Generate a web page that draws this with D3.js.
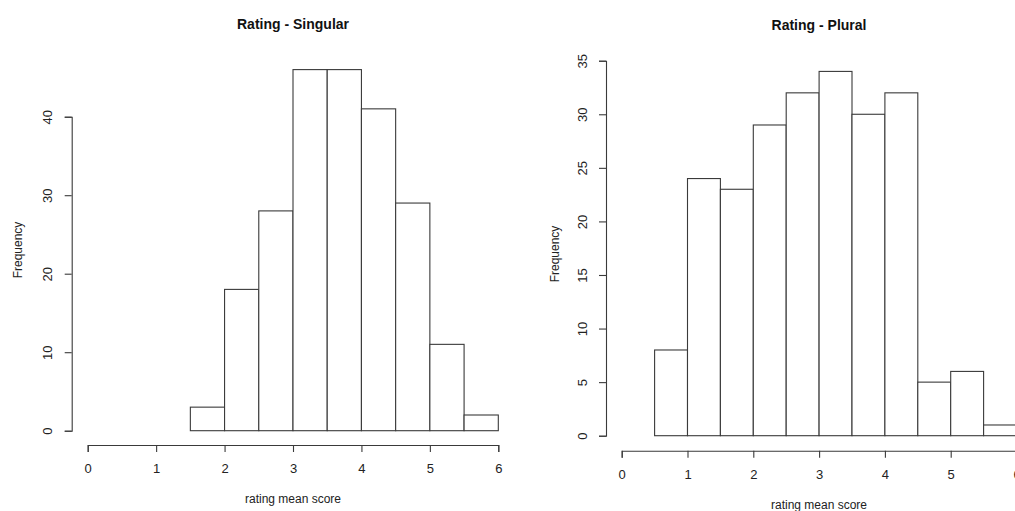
<!DOCTYPE html>
<html>
<head>
<meta charset="utf-8">
<script src="https://cdn.jsdelivr.net/npm/d3@7"></script>
<style>
  body { margin: 0; background: #fff; }
  svg { display: block; font-family: "Liberation Sans", Arial, sans-serif; }
</style>
</head>
<body>
<div id="chart"></div>
<script>
const singularBreaks = [1.5, 2, 2.5, 3, 3.5, 4, 4.5, 5, 5.5, 6];
const singularCounts = [3, 18, 28, 46, 46, 41, 29, 11, 2];
const pluralBreaks = [0.5, 1, 1.5, 2, 2.5, 3, 3.5, 4, 4.5, 5, 5.5, 6];
const pluralCounts = [8, 24, 23, 29, 32, 34, 30, 32, 5, 6, 1];
const xTickValues = [0, 1, 2, 3, 4, 5, 6];
const singularYTicks = [0, 10, 20, 30, 40];
const pluralYTicks = [0, 5, 10, 15, 20, 25, 30, 35];

const w = 1015;
const h = 511;
const ink = "#3a3a3a";

const svg = d3.select("#chart")
    .append("svg")
    .attr("width", w)
    .attr("height", h);

const panels = [
    {
        title: "Rating - Singular",
        breaks: singularBreaks, counts: singularCounts, yTicks: singularYTicks,
        xRange: [87.7, 498.3], yRange: [430.7, 116.7],
        yAxisX: 71.7, xAxisY: 445, titleY: 29, xLabelY: 503, yLabelX: 22, yLabelY: 250, cx: 293
    },
    {
        title: "Rating - Plural",
        breaks: pluralBreaks, counts: pluralCounts, yTicks: pluralYTicks,
        xRange: [621.7, 1016.5], yRange: [435.7, 60.7],
        yAxisX: 606, xAxisY: 450.7, titleY: 30, xLabelY: 509, yLabelX: 559, yLabelY: 254, cx: 819
    }
];

panels.forEach(p => {
    const x = d3.scaleLinear().domain([0, 6]).range(p.xRange);
    const y = d3.scaleLinear().domain(d3.extent(p.yTicks)).range(p.yRange);

    const bins = p.counts.map((c, i) => ({ x0: p.breaks[i], x1: p.breaks[i + 1], count: c }));

    const g = svg.append("g");

    g.selectAll("rect")
        .data(bins)
        .enter()
        .append("rect")
        .attr("x", d => x(d.x0))
        .attr("y", d => y(d.count))
        .attr("width", d => x(d.x1) - x(d.x0))
        .attr("height", d => y(0) - y(d.count))
        .attr("fill", "#fff")
        .attr("stroke", ink)
        .attr("stroke-width", 1.1);

    const xAxis = g.append("g")
        .attr("transform", `translate(0,${p.xAxisY})`)
        .call(d3.axisBottom(x).tickValues(xTickValues).tickSizeOuter(0).tickSize(7).tickPadding(12).tickFormat(d3.format("d")));

    const yAxis = g.append("g")
        .attr("transform", `translate(${p.yAxisX},0)`)
        .call(d3.axisLeft(y).tickValues(p.yTicks).tickSizeOuter(0).tickSize(7).tickFormat(d3.format("d")));

    [xAxis, yAxis].forEach(a => {
        a.selectAll("path, line").attr("stroke", ink).attr("stroke-width", 1.1);
        a.selectAll("text").attr("fill", "#222").style("font-size", "13px").style("font-family", "Liberation Sans, Arial, sans-serif");
    });

    // R style: y tick labels run parallel to the axis
    yAxis.selectAll(".tick text")
        .attr("x", null).attr("dy", null)
        .attr("text-anchor", "middle")
        .attr("transform", "translate(-24,0) rotate(-90) translate(0,4.7)");

    g.append("text")
        .attr("x", p.cx)
        .attr("y", p.titleY)
        .attr("text-anchor", "middle")
        .style("font-size", "14px")
        .style("font-weight", "bold")
        .attr("fill", "#111")
        .text(p.title);

    g.append("text")
        .attr("x", p.cx)
        .attr("y", p.xLabelY)
        .attr("text-anchor", "middle")
        .style("font-size", "12px")
        .attr("fill", "#222")
        .text("rating mean score");

    g.append("text")
        .attr("transform", `translate(${p.yLabelX},${p.yLabelY}) rotate(-90)`)
        .attr("text-anchor", "middle")
        .style("font-size", "12px")
        .attr("fill", "#222")
        .text("Frequency");
});
</script>
</body>
</html>
